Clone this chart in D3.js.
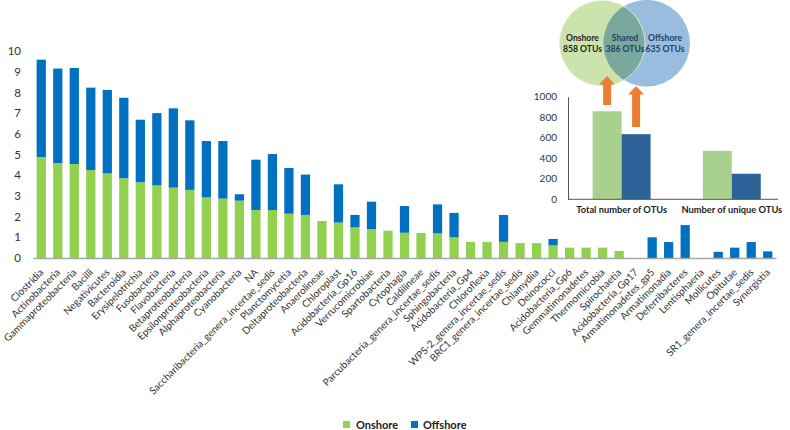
<!DOCTYPE html>
<html><head><meta charset="utf-8">
<script src="https://cdn.jsdelivr.net/npm/d3@7"></script>
<style>
body{margin:0;background:#fff;}
svg{display:block;font-family:Lato,"Open Sans",sans-serif;}
</style></head>
<body><svg id="c" width="790" height="430"></svg>
<script>
const categories = ["Clostridia","Actinobacteria","Gammaproteobacteria","Bacilli","Negativicutes","Bacteroidia","Erysipelotrichia","Fusobacteria","Flavobacteria","Betaproteobacteria","Epsilonproteobacteria","Alphaproteobacteria","Cyanobacteria","NA","Saccharibacteria_genera_incertae_sedis","Planctomycetia","Deltaproteobacteria","Anaerolineae","Chloroplast","Acidobacteria_Gp16","Verrucomicrobiae","Spartobacteria","Cytophagia","Caldilineae","Parcubacteria_genera_incertae_sedis","Sphingobacteria","Acidobacteria_Gp4","Chloroflexia","WPS-2_genera_incertae_sedis","BRC1_genera_incertae_sedis","Chlamydiia","Deinococci","Acidobacteria_Gp6","Gemmatimonadetes","Thermomicrobia","Spirochaetia","Acidobacteria_Gp17","Armatimonadetes_gp5","Armatimonadia","Deferribacteres","Lentisphaeria","Mollicutes","Opitutae","SR1_genera_incertae_sedis","Synergistia"];
const onshore = [4.88,4.59,4.54,4.25,4.09,3.85,3.66,3.51,3.40,3.29,2.93,2.87,2.77,2.32,2.32,2.14,2.08,1.79,1.71,1.48,1.39,1.32,1.22,1.21,1.19,1.00,0.78,0.78,0.78,0.72,0.72,0.61,0.50,0.50,0.50,0.34,0,0,0,0,0,0,0,0,0];
const offshore = [4.70,4.56,4.64,3.98,4.03,3.89,3.02,3.49,3.83,3.36,2.72,2.78,0.31,2.43,2.70,2.21,1.95,0,1.85,0.60,1.33,0,1.29,0,1.40,1.18,0,0,1.30,0,0,0.31,0,0,0,0,0,1.00,0.77,1.59,0,0.30,0.50,0.77,0.32];
const yTicks = [0,1,2,3,4,5,6,7,8,9,10];
const seriesNames = ["Onshore","Offshore"];

const insetGroups = ["Total number of OTUs","Number of unique OTUs"];
const insetOnshore = [858,472];
const insetOffshore = [635,249];
const insetTicks = [0,200,400,600,800,1000];

const vennLabels = [["Onshore","858 OTUs"],["Shared","386 OTUs"],["Offshore","635 OTUs"]];

const GREEN="#92D050", BLUE="#0070C0";
const svg = d3.select("#c");

// ---- main chart ----
const x = d3.scaleBand().domain(categories).range([33,776]).paddingInner(0.44).paddingOuter(0.22);
const y = d3.scaleLinear().domain([0,10]).range([258,51]);

const g = svg.append("g");
const rows = categories.map((c,i)=>({c,on:onshore[i],off:offshore[i]}));
g.selectAll("rect.on").data(rows).join("rect")
  .attr("x",d=>x(d.c)).attr("width",x.bandwidth())
  .attr("y",d=>y(d.on)).attr("height",d=>y(0)-y(d.on)).attr("fill",GREEN);
g.selectAll("rect.off").data(rows).join("rect")
  .attr("x",d=>x(d.c)).attr("width",x.bandwidth())
  .attr("y",d=>y(d.on+d.off)).attr("height",d=>y(d.on)-y(d.on+d.off)).attr("fill",BLUE);

// y axis labels
const ya = g.append("g").attr("transform","translate(21,0)")
  .call(d3.axisLeft(y).tickValues(yTicks).tickSize(0).tickPadding(0));
ya.select(".domain").remove();
ya.selectAll("text").attr("font-size",11.5).attr("fill","#333").attr("font-family","Lato,sans-serif");

// x axis
const xa = g.append("g").attr("transform","translate(0,258)")
  .call(d3.axisBottom(x).tickSize(0).tickSizeOuter(0).tickPadding(0));
xa.select(".domain").attr("stroke","#A6A6A6").attr("stroke-width",1.5);
xa.selectAll("text").attr("font-size",10).attr("fill","#333").attr("font-family","Lato,sans-serif")
  .attr("text-anchor","end").attr("dy",null).attr("y",null)
  .attr("transform","translate(3,15) rotate(-45)");

// legend
const leg = svg.append("g").attr("font-size",11).attr("font-weight","bold");
[[343,GREEN,seriesNames[0],356],[411,BLUE,seriesNames[1],423]].forEach(([lx,col,t,tx])=>{
  leg.append("rect").attr("x",lx).attr("y",421).attr("width",7).attr("height",7).attr("fill",col);
  leg.append("text").attr("x",tx).attr("y",429).text(t).attr("fill","#222");
});

// ---- inset ----
const IG="#A9D18E", IB="#2E6399";
const ix = d3.scaleBand().domain(insetGroups).range([570.6,782.8]).paddingInner(0.474).paddingOuter(0.2);
const iy = d3.scaleLinear().domain([0,1000]).range([199.3,96.7]);
const ig = svg.append("g");
const sub = d3.scaleBand().domain([0,1]).range([0,ix.bandwidth()]);
insetGroups.forEach((gname,i)=>{
  ig.append("rect").attr("x",ix(gname)+sub(0)).attr("width",sub.bandwidth())
    .attr("y",iy(insetOnshore[i])).attr("height",iy(0)-iy(insetOnshore[i])).attr("fill",IG);
  ig.append("rect").attr("x",ix(gname)+sub(1)).attr("width",sub.bandwidth())
    .attr("y",iy(insetOffshore[i])).attr("height",iy(0)-iy(insetOffshore[i])).attr("fill",IB);
});
const iya = ig.append("g").attr("transform","translate(568,0)")
  .call(d3.axisLeft(iy).tickValues(insetTicks).tickFormat(d3.format("d")).tickSize(0).tickPadding(11).tickSizeOuter(0));
iya.select(".domain").attr("stroke","#555").attr("stroke-width",1);
iya.selectAll("text").attr("font-size",10).attr("fill","#333").attr("font-family","Lato,sans-serif");
const ixa = ig.append("g").attr("transform","translate(0,199.3)")
  .call(d3.axisBottom(ix).tickSize(0).tickSizeOuter(0).tickPadding(7));
ixa.select(".domain").remove();
ig.append("line").attr("x1",568).attr("x2",778).attr("y1",199.3).attr("y2",199.3).attr("stroke","#555").attr("stroke-width",1);
ixa.selectAll("text").attr("font-size",9.3).attr("font-weight","bold").attr("fill","#222").attr("font-family","Lato,sans-serif");

// ---- venn ----
const vg = svg.append("g");
const c1 = {cx:602.2, cy:43.2, r:42.8}, c2 = {cx:646.7, cy:43.2, r:43.3};
const defs = svg.append("defs");
defs.append("clipPath").attr("id","clipL").append("circle").attr("cx",c1.cx).attr("cy",c1.cy).attr("r",c1.r);
vg.append("circle").attr("cx",c1.cx).attr("cy",c1.cy).attr("r",c1.r).attr("fill","#CBE4AE");
vg.append("circle").attr("cx",c2.cx).attr("cy",c2.cy).attr("r",c2.r).attr("fill","#9ABDDF");
vg.append("circle").attr("cx",c2.cx).attr("cy",c2.cy).attr("r",c2.r).attr("fill","#78A99C").attr("clip-path","url(#clipL)");
vg.append("circle").attr("cx",c1.cx).attr("cy",c1.cy).attr("r",c1.r).attr("fill","none").attr("stroke","#E8F2DC").attr("stroke-width",0.8);
const vx = [582.5,625,665], vcol = ["#222","#1F3F66","#1F3F66"];
vennLabels.forEach((ls,i)=>{
  ls.forEach((t,j)=>{
    vg.append("text").attr("x",vx[i]).attr("y",41+j*10.5).attr("text-anchor","middle")
      .attr("font-size",8.6).attr("font-weight","bold").attr("fill",vcol[i]).text(t);
  });
});

// ---- arrows ----
const ORANGE="#ED7D31";
function arrow(cx, tip, base, bottom){
  const p = d3.path();
  p.moveTo(cx,tip); p.lineTo(cx+8,base); p.lineTo(cx+4,base); p.lineTo(cx+4,bottom);
  p.lineTo(cx-4,bottom); p.lineTo(cx-4,base); p.lineTo(cx-8,base); p.closePath();
  svg.append("path").attr("d",p.toString()).attr("fill",ORANGE);
}
arrow(ix(insetGroups[0])+sub(0)+sub.bandwidth()/2, 76, 84.5, 105);
arrow(ix(insetGroups[0])+sub(1)+sub.bandwidth()/2, 86, 94.5, 127);
</script></body></html>
